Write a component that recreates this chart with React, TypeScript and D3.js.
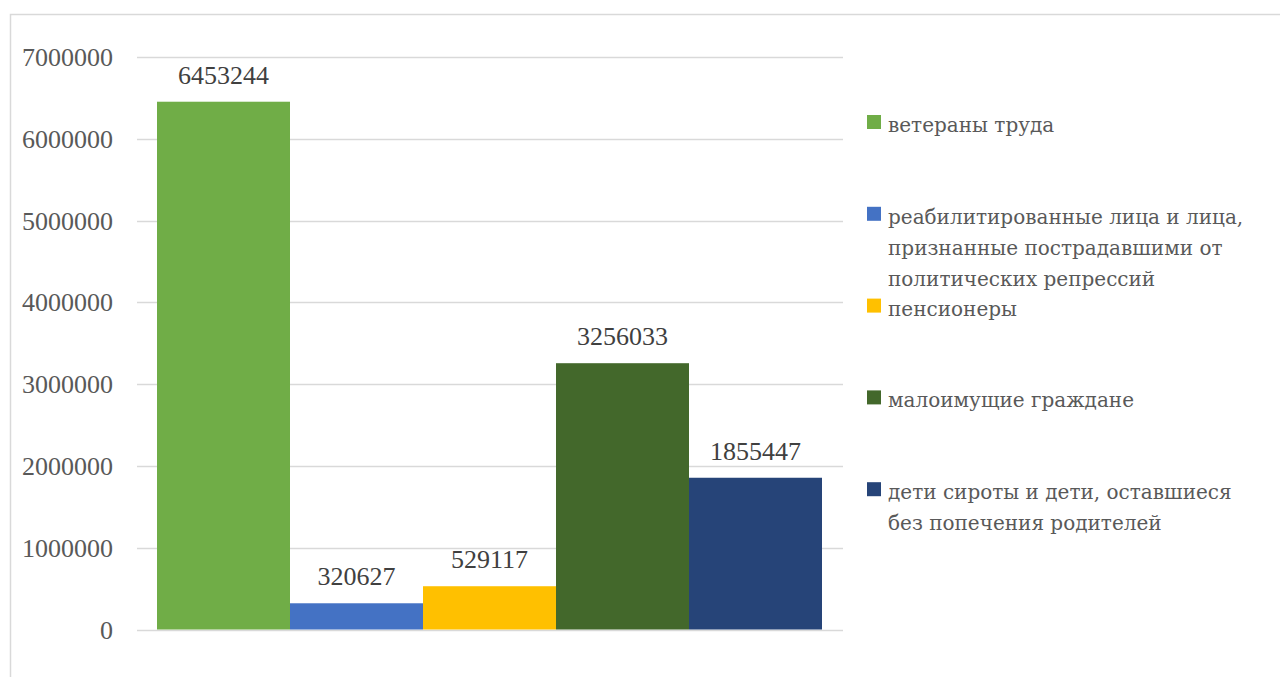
import React, { useEffect, useRef } from "react";
import * as d3 from "d3";

// categories (legend order) and values
const categories = [
  "ветераны труда",
  "реабилитированные лица и лица, признанные пострадавшими от политических репрессий",
  "пенсионеры",
  "малоимущие граждане",
  "дети сироты и дети, оставшиеся без попечения родителей",
];
const values = [6453244, 320627, 529117, 3256033, 1855447];
const colors = ["#70AD47", "#4472C4", "#FFC000", "#43682B", "#264478"];
const legendLines = [
  ["ветераны труда"],
  ["реабилитированные лица и лица,", "признанные пострадавшими от", "политических репрессий"],
  ["пенсионеры"],
  ["малоимущие граждане"],
  ["дети сироты и дети, оставшиеся", "без попечения родителей"],
];
const yTicks = [0, 1000000, 2000000, 3000000, 4000000, 5000000, 6000000, 7000000];

const App = () => {
  const svgRef = useRef<SVGSVGElement>(null);
  const width = 1280;
  const height = 677;
  const font = "'Liberation Serif', 'Times New Roman', serif";
  const cyrFont = "'DejaVu Serif', serif";

  useEffect(() => {
    const svg = d3.select(svgRef.current).attr("width", width).attr("height", height);
    svg.selectAll("*").remove();

    // chart border (right and bottom run off the page)
    svg
      .append("rect")
      .attr("x", 10.5)
      .attr("y", 14.5)
      .attr("width", 1400)
      .attr("height", 800)
      .attr("fill", "white")
      .attr("stroke", "#d9d9d9")
      .attr("stroke-width", 1.5);

    const plot = { left: 137, right: 843, top: 57, bottom: 629.5 };

    const y = d3.scaleLinear().domain([0, 7000000]).range([plot.bottom, plot.top]);
    const x = d3
      .scaleBand()
      .domain(categories)
      .range([plot.left + 20, plot.right - 21])
      .paddingInner(0);

    // gridlines
    svg
      .append("g")
      .selectAll("line")
      .data(yTicks)
      .enter()
      .append("line")
      .attr("x1", plot.left)
      .attr("x2", plot.right)
      .attr("y1", (d) => Math.round(y(d)) + 0.5)
      .attr("y2", (d) => Math.round(y(d)) + 0.5)
      .attr("stroke", "#d9d9d9")
      .attr("stroke-width", 1.5);

    // y tick labels
    svg
      .append("g")
      .selectAll("text")
      .data(yTicks)
      .enter()
      .append("text")
      .attr("x", 113)
      .attr("y", (d) => y(d))
      .attr("dy", "0.35em")
      .attr("text-anchor", "end")
      .attr("font-family", font)
      .attr("font-size", 26)
      .attr("fill", "#595959")
      .text((d) => String(d));

    // bars
    svg
      .append("g")
      .selectAll("rect")
      .data(values)
      .enter()
      .append("rect")
      .attr("x", (d, i) => x(categories[i])!)
      .attr("y", (d) => y(d))
      .attr("width", x.bandwidth())
      .attr("height", (d) => plot.bottom - y(d))
      .attr("fill", (d, i) => colors[i]);

    // data labels
    svg
      .append("g")
      .selectAll("text")
      .data(values)
      .enter()
      .append("text")
      .attr("x", (d, i) => x(categories[i])! + x.bandwidth() / 2)
      .attr("y", (d) => y(d) - 18)
      .attr("text-anchor", "middle")
      .attr("font-family", font)
      .attr("font-size", 26)
      .attr("fill", "#404040")
      .text((d) => String(d));

    // legend
    const legendTop = 122;
    const legendStep = 91.8;
    const item = svg
      .append("g")
      .selectAll("g")
      .data(legendLines)
      .enter()
      .append("g")
      .attr("transform", (d, i) => `translate(867,${legendTop + i * legendStep})`);

    item
      .append("rect")
      .attr("x", 0)
      .attr("y", -7)
      .attr("width", 14)
      .attr("height", 14)
      .attr("fill", (d, i) => colors[i]);

    item
      .append("text")
      .attr("font-family", cyrFont)
      .attr("font-size", 20)
      .attr("fill", "#595959")
      .selectAll("tspan")
      .data((d) => d)
      .enter()
      .append("tspan")
      .attr("x", 21)
      .attr("y", (d, i) => 10 + i * 31)
      .text((d) => d);
  }, []);

  return (
    <div style={{ position: "absolute", left: 0, top: 0 }}>
      <svg ref={svgRef} style={{ display: "block" }}></svg>
    </div>
  );
};

export default App;
